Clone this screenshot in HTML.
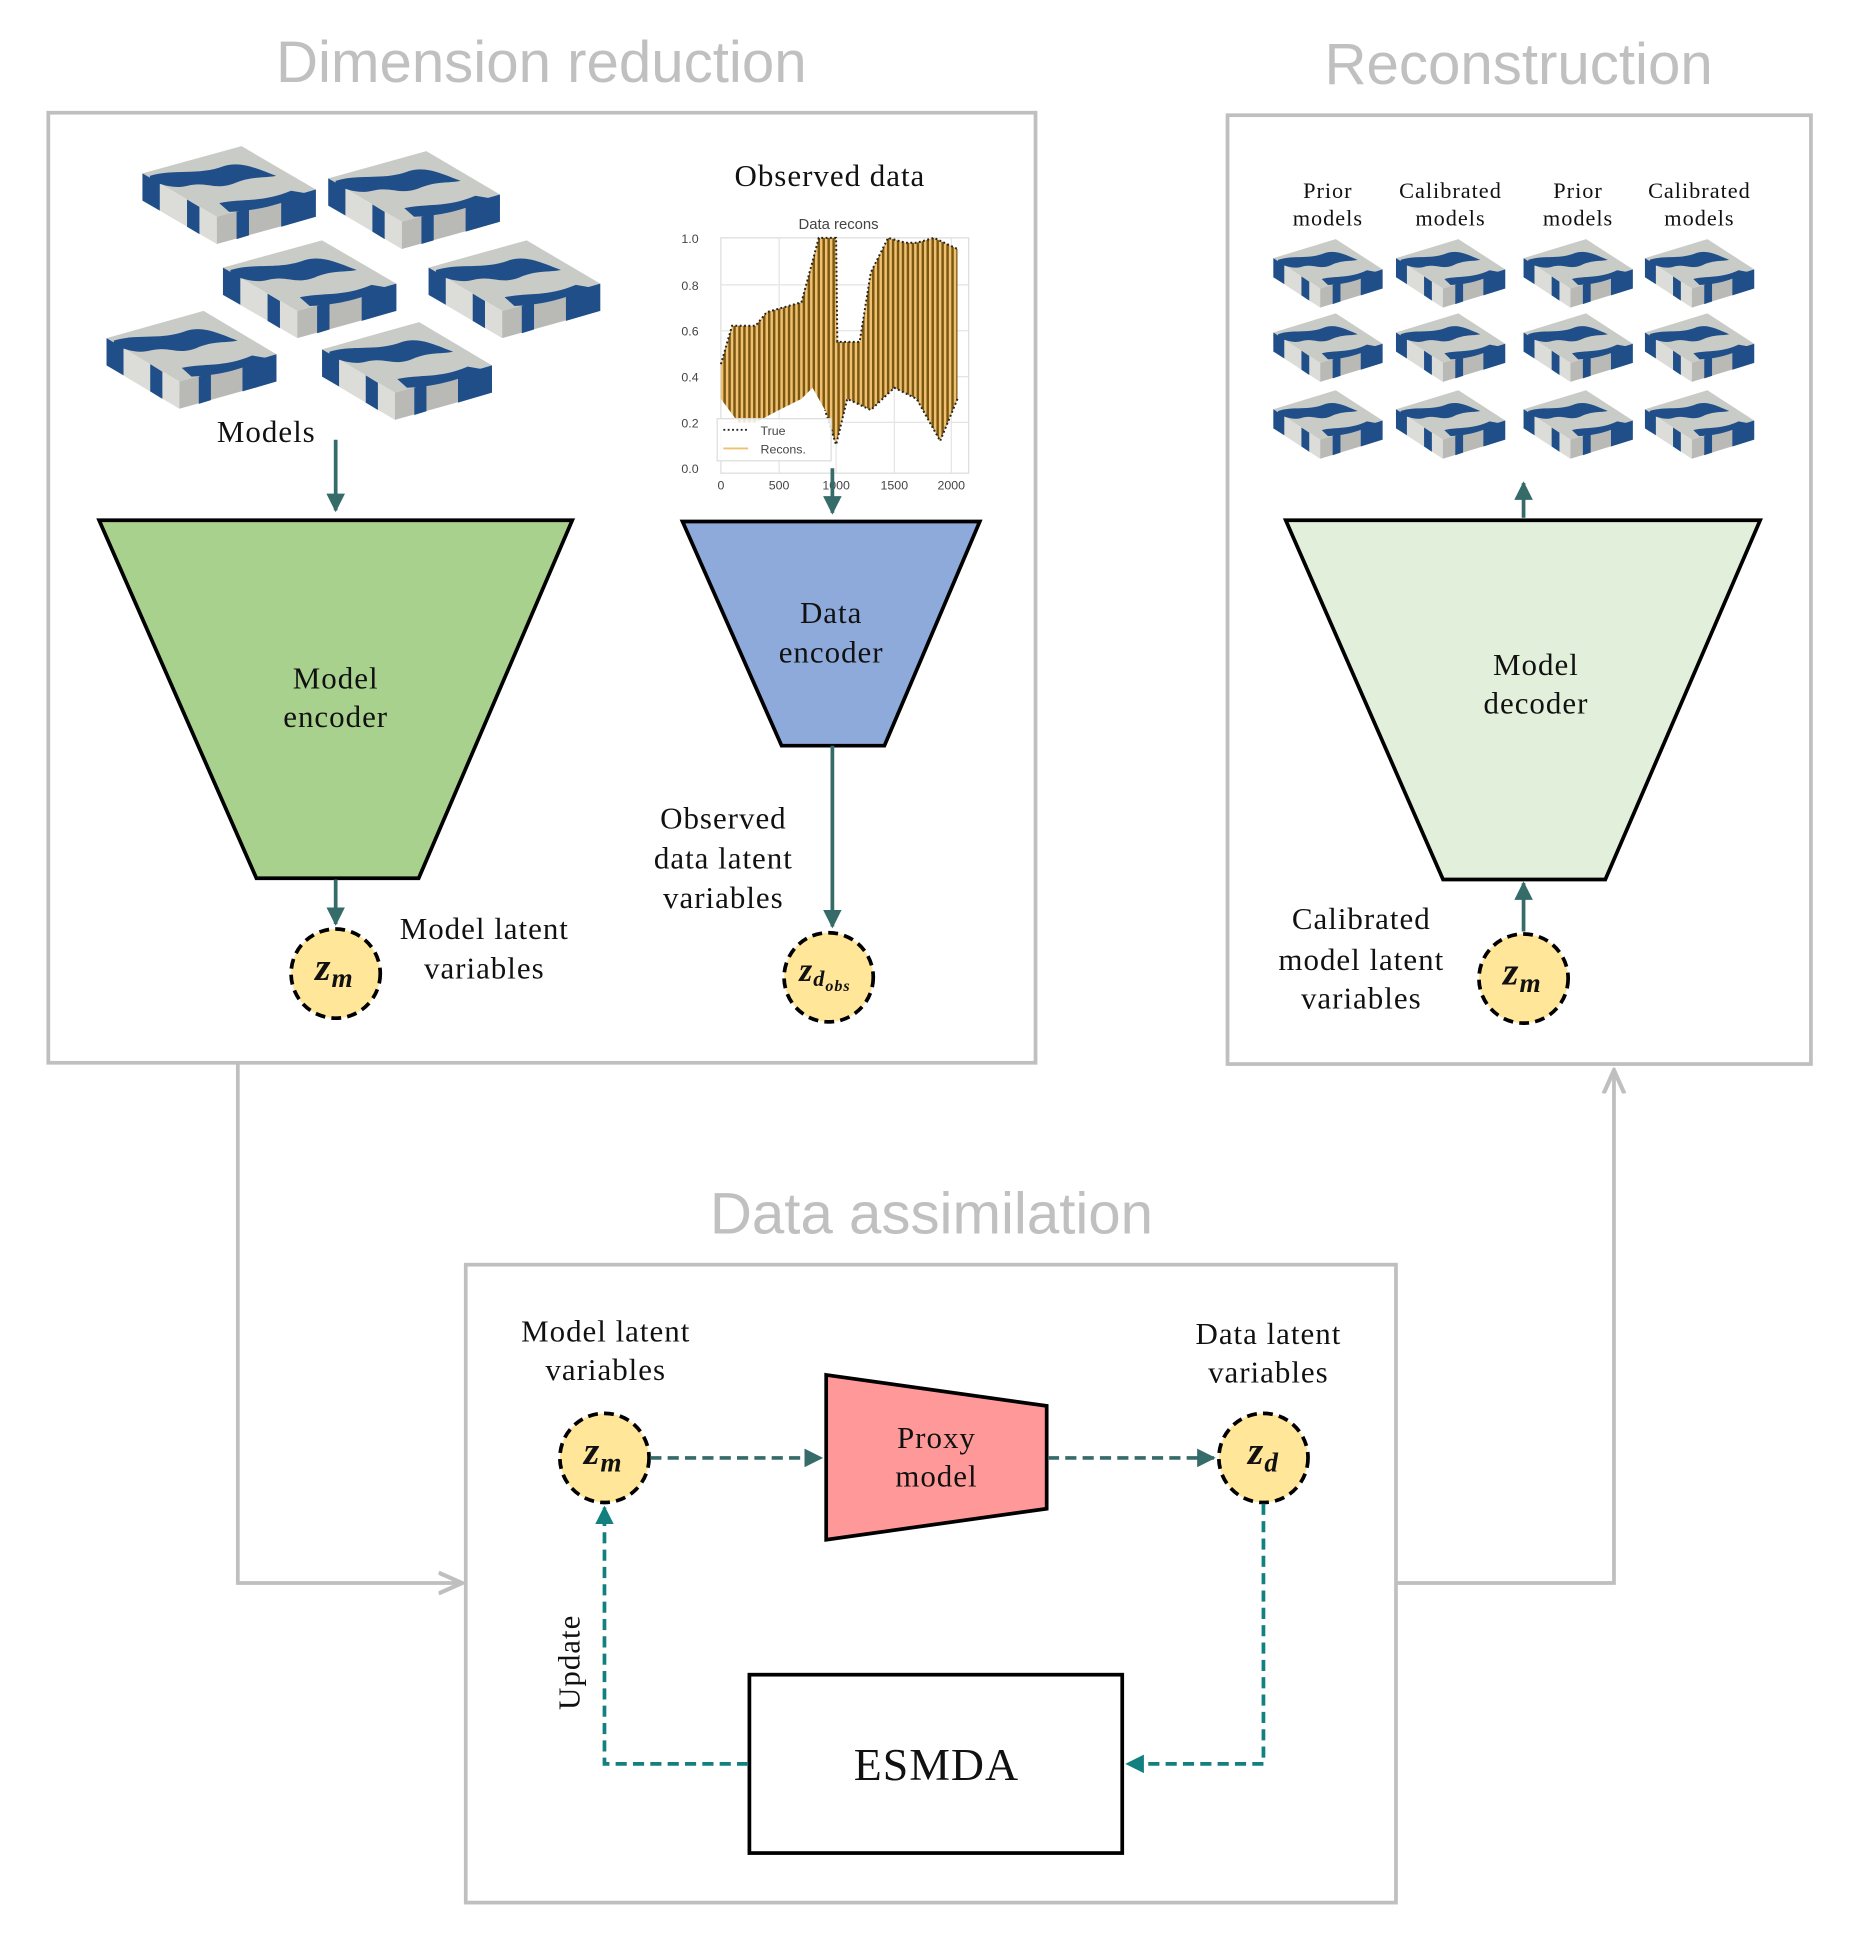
<!DOCTYPE html>
<html><head><meta charset="utf-8"><style>
html,body{margin:0;padding:0;background:#fff}
svg{display:block}
.s{font-family:"Liberation Serif",serif;fill:#111;letter-spacing:0.8px}
.g{font-family:"Liberation Sans",sans-serif;fill:#c0c0c0}
</style></head><body>
<svg width="1858" height="1943" viewBox="0 0 1500 1568.6" xmlns="http://www.w3.org/2000/svg">
<defs>
<marker id="ah" viewBox="0 0 10 10" refX="9" refY="5" markerWidth="5" markerHeight="5" orient="auto"><path d="M0,0 L10,5 L0,10 z" fill="#356b68"/></marker>
<marker id="at" viewBox="0 0 10 10" refX="9" refY="5" markerWidth="5" markerHeight="5" orient="auto"><path d="M0,0 L10,5 L0,10 z" fill="#138080"/></marker>
<marker id="ag" viewBox="0 0 10 10" refX="9" refY="5" markerWidth="7" markerHeight="7" orient="auto"><path d="M0,1 L9,5 L0,9" fill="none" stroke="#bfbfbf" stroke-width="1.6"/></marker>
<pattern id="st" width="4" height="10" patternUnits="userSpaceOnUse"><rect width="4" height="10" fill="#f0c070"/><rect width="2" height="10" fill="#7a5812"/></pattern>
<g id="cube">
<polygon points="0,22 80,0 140,35 60,57" fill="#c9cbc6"/>
<polygon points="0,22 60,57 60,79 0,44" fill="#dcddd8"/>
<polygon points="60,57 140,35 140,57 60,79" fill="#b9bab6"/>
<path d="M6,24 C25,18 45,24 66,16 C80,12 92,18 108,24 C98,26 88,24 74,30 C58,36 52,28 36,32 C24,35 14,30 6,28 z" fill="#1f4e89"/>
<path d="M62,46 C80,42 96,46 120,36 L132,38 C114,46 96,52 70,53 z" fill="#1f4e89"/>
<polygon points="0,22 14,30 14,52 0,44" fill="#1f4e89"/>
<polygon points="36,43 46,49 46,71 36,65" fill="#1f4e89"/>
<polygon points="112,43 140,35 140,57 112,65" fill="#1f4e89"/>
<polygon points="76,53 86,50 86,72 76,75" fill="#1f4e89"/>
</g>
</defs>

<!-- titles -->
<text class="g" x="437" y="66" font-size="47" text-anchor="middle">Dimension reduction</text>
<text class="g" x="1226" y="68" font-size="47" text-anchor="middle">Reconstruction</text>
<text class="g" x="752" y="996" font-size="47" text-anchor="middle">Data assimilation</text>

<!-- boxes -->
<rect x="39" y="91" width="797" height="767" fill="none" stroke="#bfbfbf" stroke-width="3"/>
<rect x="991" y="93" width="471" height="766" fill="none" stroke="#bfbfbf" stroke-width="3"/>
<rect x="376" y="1021" width="751" height="515" fill="none" stroke="#bfbfbf" stroke-width="3"/>

<!-- gray connectors -->
<polyline points="192,858 192,1278 373,1278" fill="none" stroke="#bfbfbf" stroke-width="3" marker-end="url(#ag)"/>
<polyline points="1128,1278 1303,1278 1303,864" fill="none" stroke="#bfbfbf" stroke-width="3" marker-end="url(#ag)"/>

<!-- cubes box1 -->
<use href="#cube" transform="translate(115,118)"/>
<use href="#cube" transform="translate(265,122) scale(0.99,1.0)"/>
<use href="#cube" transform="translate(180,194)"/>
<use href="#cube" transform="translate(346,194) scale(0.99,1.0)"/>
<use href="#cube" transform="translate(86,251) scale(0.98,1.0)"/>
<use href="#cube" transform="translate(260,260) scale(0.98,1.0)"/>
<text class="s" x="215" y="357" font-size="25" text-anchor="middle">Models</text>

<!-- cubes box2 -->
<g>
<use href="#cube" transform="translate(1028,193) scale(0.63,0.7)"/>
<use href="#cube" transform="translate(1127,193) scale(0.63,0.7)"/>
<use href="#cube" transform="translate(1230,193) scale(0.63,0.7)"/>
<use href="#cube" transform="translate(1328,193) scale(0.63,0.7)"/>
<use href="#cube" transform="translate(1028,253) scale(0.63,0.7)"/>
<use href="#cube" transform="translate(1127,253) scale(0.63,0.7)"/>
<use href="#cube" transform="translate(1230,253) scale(0.63,0.7)"/>
<use href="#cube" transform="translate(1328,253) scale(0.63,0.7)"/>
<use href="#cube" transform="translate(1028,315) scale(0.63,0.7)"/>
<use href="#cube" transform="translate(1127,315) scale(0.63,0.7)"/>
<use href="#cube" transform="translate(1230,315) scale(0.63,0.7)"/>
<use href="#cube" transform="translate(1328,315) scale(0.63,0.7)"/>
</g>
<g class="s" font-size="18" text-anchor="middle">
<text x="1072" y="160">Prior</text><text x="1072" y="182">models</text>
<text x="1171" y="160">Calibrated</text><text x="1171" y="182">models</text>
<text x="1274" y="160">Prior</text><text x="1274" y="182">models</text>
<text x="1372" y="160">Calibrated</text><text x="1372" y="182">models</text>
</g>

<!-- chart -->
<text class="s" x="670" y="150" font-size="25" text-anchor="middle">Observed data</text>
<text x="677" y="185" font-family="Liberation Sans,sans-serif" font-size="12" fill="#444" text-anchor="middle">Data recons</text>
<rect x="582" y="192" width="200" height="190" fill="#fff" stroke="#ddd" stroke-width="1"/>
<g stroke="#e4e4e4" stroke-width="1">
<line x1="582" y1="230" x2="782" y2="230"/><line x1="582" y1="267" x2="782" y2="267"/><line x1="582" y1="304" x2="782" y2="304"/><line x1="582" y1="341" x2="782" y2="341"/>
<line x1="629" y1="192" x2="629" y2="382"/><line x1="675" y1="192" x2="675" y2="382"/><line x1="722" y1="192" x2="722" y2="382"/><line x1="768" y1="192" x2="768" y2="382"/>
</g>
<polygon points="582,294 591,263 610,263 619,252 647,244 656,211 661,192 675,192 676,276 694,276 703,220 717,192 731,196 740,196 754,192 773,201 773,322 759,356 740,322 722,313 703,331 684,322 675,359 666,331 656,313 647,322 629,331 610,341 596,341 582,322" fill="url(#st)"/>
<polyline points="582,294 591,263 610,263 619,252 647,244 656,211 661,192 675,192 676,276 694,276 703,220 717,192 731,196 740,196 754,192 773,201" fill="none" stroke="#222" stroke-width="1.6" stroke-dasharray="1.5 2"/>
<polyline points="773,322 759,356 740,322 722,313 703,331 684,322 675,359 666,331" fill="none" stroke="#222" stroke-width="1.6" stroke-dasharray="1.5 2"/>
<rect x="579" y="338" width="92" height="34" fill="#fff" fill-opacity="0.85" stroke="#ddd"/>
<line x1="584" y1="347" x2="604" y2="347" stroke="#222" stroke-width="1.5" stroke-dasharray="1.5 2"/>
<line x1="584" y1="362" x2="604" y2="362" stroke="#f0c070" stroke-width="1.5"/>
<g font-family="Liberation Sans,sans-serif" font-size="10" fill="#444">
<text x="614" y="351">True</text><text x="614" y="366">Recons.</text>
<text x="564" y="196" text-anchor="end">1.0</text><text x="564" y="234" text-anchor="end">0.8</text><text x="564" y="271" text-anchor="end">0.6</text><text x="564" y="308" text-anchor="end">0.4</text><text x="564" y="345" text-anchor="end">0.2</text><text x="564" y="382" text-anchor="end">0.0</text>
<text x="582" y="395" text-anchor="middle">0</text><text x="629" y="395" text-anchor="middle">500</text><text x="675" y="395" text-anchor="middle">1000</text><text x="722" y="395" text-anchor="middle">1500</text><text x="768" y="395" text-anchor="middle">2000</text>
</g>

<!-- model encoder -->
<line x1="271" y1="355" x2="271" y2="412" stroke="#356b68" stroke-width="3" marker-end="url(#ah)"/>
<polygon points="80,420 462,420 338,709 207,709" fill="#a9d18e" stroke="#000" stroke-width="3"/>
<text class="s" x="271" y="556" font-size="25" text-anchor="middle">Model</text>
<text class="s" x="271" y="587" font-size="25" text-anchor="middle">encoder</text>
<line x1="271" y1="710" x2="271" y2="746" stroke="#356b68" stroke-width="3" marker-end="url(#ah)"/>
<circle cx="271" cy="786" r="36" fill="#ffe699" stroke="#000" stroke-width="3" stroke-dasharray="8 5"/>
<text class="s" x="270" y="791" font-size="32" font-weight="bold" font-style="italic" text-anchor="middle">z<tspan font-size="22" dy="6">m</tspan></text>
<text class="s" x="391" y="758" font-size="25" text-anchor="middle">Model latent</text>
<text class="s" x="391" y="790" font-size="25" text-anchor="middle">variables</text>

<!-- data encoder -->
<line x1="672" y1="378" x2="672" y2="414" stroke="#356b68" stroke-width="3" marker-end="url(#ah)"/>
<polygon points="551,421 791,421 714,602 631,602" fill="#8eaadb" stroke="#000" stroke-width="3"/>
<text class="s" x="671" y="503" font-size="25" text-anchor="middle">Data</text>
<text class="s" x="671" y="535" font-size="25" text-anchor="middle">encoder</text>
<line x1="672" y1="602" x2="672" y2="748" stroke="#356b68" stroke-width="3" marker-end="url(#ah)"/>
<circle cx="669" cy="789" r="36" fill="#ffe699" stroke="#000" stroke-width="3" stroke-dasharray="8 5"/>
<text class="s" x="666" y="792" font-size="27" font-weight="bold" font-style="italic" text-anchor="middle">z<tspan font-size="18" dy="4">d</tspan><tspan font-size="13" dy="4">obs</tspan></text>
<text class="s" x="584" y="669" font-size="25" text-anchor="middle">Observed</text>
<text class="s" x="584" y="701" font-size="25" text-anchor="middle">data latent</text>
<text class="s" x="584" y="733" font-size="25" text-anchor="middle">variables</text>

<!-- decoder -->
<line x1="1230" y1="418" x2="1230" y2="390" stroke="#356b68" stroke-width="3" marker-end="url(#ah)"/>
<polygon points="1038,420 1421,420 1296,710 1165,710" fill="#e2efda" stroke="#000" stroke-width="3"/>
<text class="s" x="1240" y="545" font-size="25" text-anchor="middle">Model</text>
<text class="s" x="1240" y="576" font-size="25" text-anchor="middle">decoder</text>
<line x1="1230" y1="752" x2="1230" y2="713" stroke="#356b68" stroke-width="3" marker-end="url(#ah)"/>
<circle cx="1230" cy="790" r="36" fill="#ffe699" stroke="#000" stroke-width="3" stroke-dasharray="8 5"/>
<text class="s" x="1229" y="795" font-size="32" font-weight="bold" font-style="italic" text-anchor="middle">z<tspan font-size="22" dy="6">m</tspan></text>
<text class="s" x="1099" y="750" font-size="25" text-anchor="middle">Calibrated</text>
<text class="s" x="1099" y="783" font-size="25" text-anchor="middle">model latent</text>
<text class="s" x="1099" y="814" font-size="25" text-anchor="middle">variables</text>

<!-- data assimilation -->
<text class="s" x="489" y="1083" font-size="25" text-anchor="middle">Model latent</text>
<text class="s" x="489" y="1114" font-size="25" text-anchor="middle">variables</text>
<text class="s" x="1024" y="1085" font-size="25" text-anchor="middle">Data latent</text>
<text class="s" x="1024" y="1116" font-size="25" text-anchor="middle">variables</text>
<circle cx="488" cy="1177" r="36" fill="#ffe699" stroke="#000" stroke-width="3" stroke-dasharray="8 5"/>
<text class="s" x="487" y="1182" font-size="32" font-weight="bold" font-style="italic" text-anchor="middle">z<tspan font-size="22" dy="6">m</tspan></text>
<circle cx="1020" cy="1177" r="36" fill="#ffe699" stroke="#000" stroke-width="3" stroke-dasharray="8 5"/>
<text class="s" x="1020" y="1182" font-size="32" font-weight="bold" font-style="italic" text-anchor="middle">z<tspan font-size="22" dy="6">d</tspan></text>
<line x1="525" y1="1177" x2="663" y2="1177" stroke="#356b68" stroke-width="3" stroke-dasharray="9 5" marker-end="url(#ah)"/>
<polygon points="667,1110 845,1135 845,1218 667,1243" fill="#ff9999" stroke="#000" stroke-width="3"/>
<text class="s" x="756" y="1169" font-size="25" text-anchor="middle">Proxy</text>
<text class="s" x="756" y="1200" font-size="25" text-anchor="middle">model</text>
<line x1="846" y1="1177" x2="980" y2="1177" stroke="#356b68" stroke-width="3" stroke-dasharray="9 5" marker-end="url(#ah)"/>
<rect x="605" y="1352" width="301" height="144" fill="#fff" stroke="#000" stroke-width="3"/>
<text class="s" x="756" y="1437" font-size="37" text-anchor="middle">ESMDA</text>
<polyline points="1020,1214 1020,1424 910,1424" fill="none" stroke="#138080" stroke-width="3" stroke-dasharray="9 5" marker-end="url(#at)"/>
<polyline points="604,1424 488,1424 488,1217" fill="none" stroke="#138080" stroke-width="3" stroke-dasharray="9 5" marker-end="url(#at)"/>
<text class="s" x="0" y="0" font-size="25" text-anchor="middle" transform="translate(468,1342) rotate(-90)">Update</text>
</svg>
</body></html>
